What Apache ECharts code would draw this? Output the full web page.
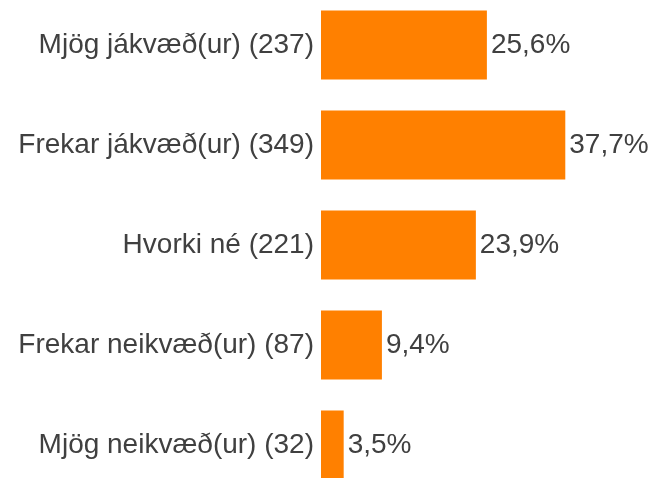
<!DOCTYPE html>
<html>
<head>
<meta charset="utf-8">
<script src="https://cdn.jsdelivr.net/npm/echarts@6/dist/echarts.min.js"></script>
<style>
  html, body { margin: 0; padding: 0; background: #fff; }
  #chart { width: 652px; height: 478px; }
</style>
</head>
<body>
<div id="chart"></div>
<script>
  // svör, efst fyrst
  const categories = ['Mjög jákvæð(ur) (237)', 'Frekar jákvæð(ur) (349)', 'Hvorki né (221)', 'Frekar neikvæð(ur) (87)', 'Mjög neikvæð(ur) (32)'];
  const percents = [25.6, 37.7, 23.9, 9.4, 3.5];

  const chart = echarts.init(document.getElementById('chart'));
  chart.setOption({
    animation: false,
    grid: { left: 321, top: -5, width: 324, height: 500, outerBoundsMode: 'none', containLabel: false },
    xAxis: {
      type: 'value',
      min: 0,
      max: 50,
      show: false
    },
    yAxis: {
      type: 'category',
      inverse: true,
      data: categories,
      axisLine: { show: false },
      axisTick: { show: false },
      axisLabel: {
        margin: 7,
        fontSize: 28,
        color: '#404040',
        fontFamily: 'Liberation Sans, Arial, sans-serif'
      }
    },
    series: [{
      type: 'bar',
      data: percents,
      barWidth: 69,
      itemStyle: { color: '#FF8000' },
      label: {
        show: true,
        position: 'right',
        distance: 4,
        fontSize: 28,
        color: '#404040',
        fontFamily: 'Liberation Sans, Arial, sans-serif',
        formatter: p => p.value.toFixed(1).replace('.', ',') + '%'
      }
    }]
  });
</script>
</body>
</html>
